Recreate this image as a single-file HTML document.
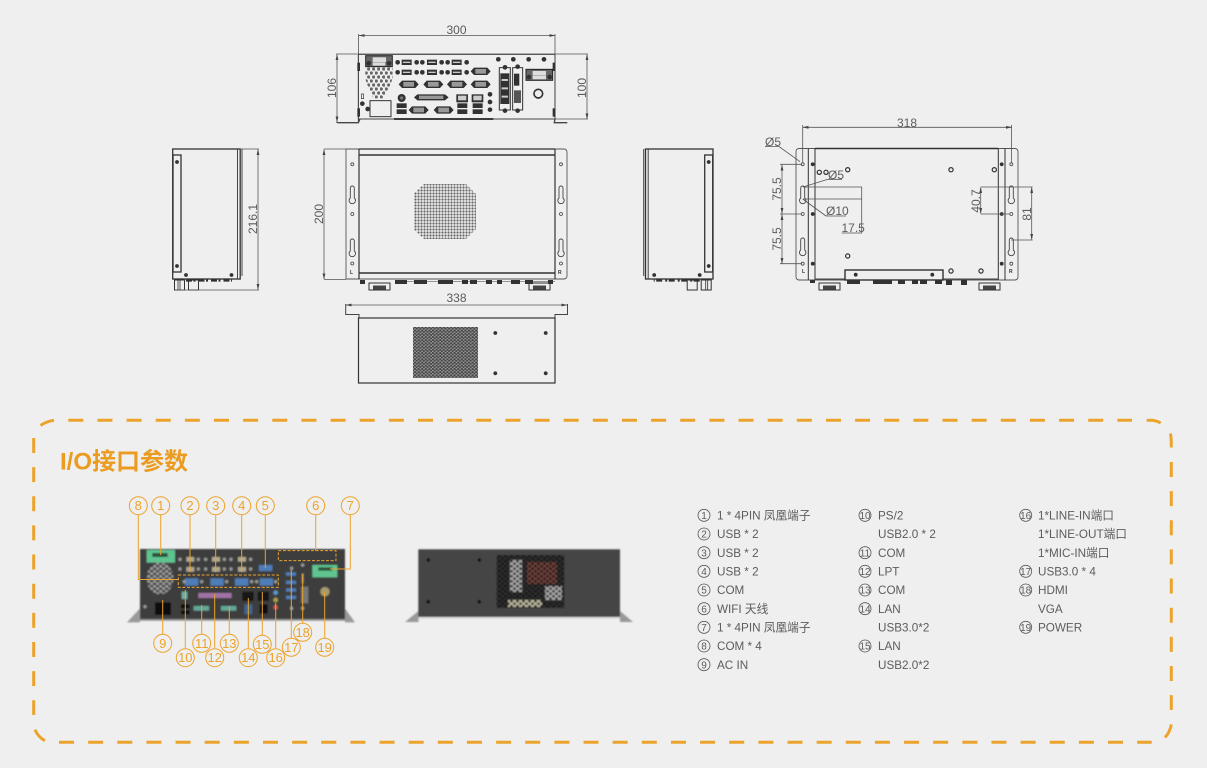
<!DOCTYPE html>
<html><head><meta charset="utf-8"><style>
html,body{margin:0;padding:0;background:#efefef;width:1207px;height:768px;overflow:hidden}
svg{display:block}
text{font-family:"Liberation Sans","Noto Sans CJK SC",sans-serif}
.d{font-size:12px;fill:#5c5c5c}
.l{font-size:11.7px;fill:#5c5c5c}
.n{font-size:10px;fill:#5c5c5c;text-anchor:middle}
.o{font-size:13px;fill:#eba32c;text-anchor:middle}
.ln{stroke:#555;stroke-width:.8;fill:none}
.or{stroke:#eba32c;stroke-width:1;fill:none}
</style></head><body>
<svg width="1207" height="768" viewBox="0 0 1207 768" xmlns="http://www.w3.org/2000/svg">
<defs>
<pattern id="holes" width="3" height="3" patternUnits="userSpaceOnUse"><circle cx="1.5" cy="1.5" r="1.1" fill="#666"/></pattern>
<pattern id="holes2" width="3.6" height="3.2" patternUnits="userSpaceOnUse"><rect width="3.6" height="3.2" fill="#999"/><circle cx="1" cy=".9" r="1.1" fill="#444"/><circle cx="2.8" cy="2.5" r="1.1" fill="#444"/></pattern>
<pattern id="hx" width="15" height="24" patternUnits="userSpaceOnUse"><circle cx="3.700" cy="6" r="5" fill="#666"/><circle cx="11.200" cy="18" r="5" fill="#666"/></pattern>
<pattern id="holes4" width="6" height="5" patternUnits="userSpaceOnUse"><circle cx="1.500" cy="1.200" r="1.300" fill="#111"/><circle cx="4.500" cy="3.700" r="1.300" fill="#111"/></pattern>
<pattern id="vph" width="18" height="15" patternUnits="userSpaceOnUse"><circle cx="5" cy="4" r="4.500" fill="#a0a0a0"/><circle cx="14" cy="11" r="4.500" fill="#a0a0a0"/></pattern>
<filter id="soft" x="-2%" y="-2%" width="104%" height="104%"><feGaussianBlur stdDeviation="0.35"/></filter>
<filter id="bl" x="-5%" y="-5%" width="110%" height="110%"><feGaussianBlur stdDeviation="0.8"/></filter>
<marker id="a" markerWidth="6" markerHeight="4" refX="5.5" refY="2" orient="auto-start-reverse" markerUnits="userSpaceOnUse"><path d="M0 .6L6 2L0 3.4z" fill="#444"/></marker>
<g id="key"><path d="M-2 0a2 2 0 0 1 4 0v10a3.2 3.2 0 1 1-4 0z" fill="none" stroke="#444" stroke-width=".9"/></g>
<g id="ring"><circle r="2.100" fill="none" stroke="#333" stroke-width="1.200"/></g>
<g id="hole"><circle r="1.500" fill="none" stroke="#444" stroke-width=".8"/></g>
<circle id="dot" r="1.900" fill="#333"/>
<g id="usb"><rect x="-15" y="-8" width="30" height="16" fill="#333"/><rect x="-11" y="-2" width="22" height="4" fill="#ccc"/></g>
<g id="com"><path d="M-30 0L-20 -11H20L30 0L20 11H-20Z" fill="#333"/><rect x="-16" y="-7" width="32" height="14" fill="#999"/></g>
<circle id="z" r="7" fill="#333"/>
<g id="conn"><rect x="0" y="0" width="21" height="7" fill="none" stroke="#333" stroke-width="1"/><rect x="4" y="2.500" width="13" height="4" fill="#444"/></g>
<g id="side"><rect x="172.700" y="149" width="67.500" height="130" fill="none" stroke="#333" stroke-width="1.300"/><rect x="173" y="155" width="8" height="117" fill="none" stroke="#333" stroke-width="1.300"/><path d="M237.500 149V279M242 149V276" stroke="#444" stroke-width="1" fill="none"/><use href="#dot" x="177" y="162"/><use href="#dot" x="177" y="266"/><use href="#dot" x="186" y="275"/><use href="#dot" x="231.500" y="275"/><path d="M186 280.500h46" stroke="#333" stroke-width="2.200" stroke-dasharray="6 1.500 2 3"/><rect x="174.500" y="280" width="10" height="10" fill="none" stroke="#333"/><rect x="188.500" y="280" width="10" height="10" fill="none" stroke="#333"/><path d="M178 280v10M180 280v10" stroke="#333" stroke-width=".8"/></g>
<clipPath id="octa"><path d="M424 184H466L476 194V229L466 239H424L413.500 229V194Z"/></clipPath>
</defs>
<rect width="1207" height="768" fill="#efefef"/>

<g filter="url(#soft)">
<!-- top rear view -->
<path class="ln" d="M358.500 34V120M555 34V120M336 54H588M336 122.500H358M555 119H588"/>
<line class="ln" x1="359" y1="35.500" x2="555" y2="35.500" marker-start="url(#a)" marker-end="url(#a)"/>
<line class="ln" x1="337" y1="54.500" x2="337" y2="122" marker-start="url(#a)" marker-end="url(#a)"/>
<line class="ln" x1="587" y1="54.500" x2="587" y2="119" marker-start="url(#a)" marker-end="url(#a)"/>
<text class="d" x="456.500" y="34" text-anchor="middle">300</text>
<text class="d" transform="translate(337,88) rotate(-90)" y="-1" text-anchor="middle">106</text>
<text class="d" transform="translate(587,88) rotate(-90)" y="-1" text-anchor="middle">100</text>
<g transform="translate(320,15) scale(.3333)">
<path d="M115 118H705M115 118V320M705 118V312M115 312H705" stroke="#444" stroke-width="3" fill="none"/>
<path d="M52 323H115L120 312M705 312L703 323H742" stroke="#444" stroke-width="4" fill="none"/>
<rect x="112" y="143" width="8" height="25" fill="#333"/><rect x="112" y="280" width="8" height="25" fill="#333"/><rect x="698" y="143" width="8" height="25" fill="#333"/><rect x="698" y="280" width="8" height="25" fill="#333"/>
<path d="M222 312H520" stroke="#222" stroke-width="5"/>
<rect x="137" y="122" width="80" height="33" fill="#666" stroke="#222" stroke-width="3"/><rect x="158" y="127" width="40" height="14" fill="#ddd"/><rect x="158" y="142" width="38" height="10" fill="#ddd"/>
<use href="#z" x="146" y="145"/><use href="#z" x="207" y="145"/>
<path d="M137 155H218V190L205 225L190 250H160L148 225L135 190Z" fill="url(#hx)"/>
<rect x="150" y="257" width="63" height="48" fill="none" stroke="#333" stroke-width="3"/>
<rect x="124" y="237" width="7" height="14" fill="none" stroke="#333" stroke-width="2"/>
<use href="#z" x="127" y="266"/><use href="#z" x="143" y="282"/>
<use href="#usb" x="260" y="142"/><use href="#usb" x="336" y="142"/><use href="#usb" x="410" y="142"/>
<use href="#usb" x="260" y="172"/><use href="#usb" x="336" y="172"/><use href="#usb" x="410" y="172"/>
<use href="#z" x="233" y="142"/><use href="#z" x="290" y="142"/><use href="#z" x="307" y="142"/><use href="#z" x="365" y="142"/><use href="#z" x="383" y="142"/><use href="#z" x="440" y="142"/>
<use href="#z" x="233" y="172"/><use href="#z" x="290" y="172"/><use href="#z" x="307" y="172"/><use href="#z" x="365" y="172"/><use href="#z" x="383" y="172"/><use href="#z" x="440" y="172"/>
<use href="#com" x="482" y="169"/><use href="#com" x="266" y="208"/><use href="#com" x="340" y="208"/><use href="#com" x="411" y="208"/><use href="#com" x="482" y="208"/>
<use href="#com" x="296" y="285"/><use href="#com" x="371" y="285"/>
<path d="M282 247L292 238H375L386 247L375 256H292Z" fill="#333"/><rect x="297" y="242" width="73" height="10" fill="#999"/>
<circle cx="245" cy="249" r="12" fill="#333"/><circle cx="245" cy="249" r="5" fill="#777"/>
<rect x="230" y="265" width="30" height="14" fill="#333"/><rect x="230" y="283" width="30" height="14" fill="#333"/>
<rect x="409" y="238" width="35" height="24" fill="#333"/><rect x="414" y="242" width="25" height="14" fill="#ccc"/><rect x="455" y="238" width="35" height="24" fill="#333"/><rect x="460" y="242" width="25" height="14" fill="#ccc"/>
<rect x="412" y="265" width="30" height="14" fill="#333"/><rect x="412" y="283" width="30" height="14" fill="#333"/><rect x="458" y="265" width="30" height="14" fill="#333"/><rect x="458" y="283" width="30" height="14" fill="#333"/>
<use href="#z" x="510" y="238"/><use href="#z" x="510" y="261"/><use href="#z" x="510" y="284"/>
<use href="#z" x="535" y="133"/><use href="#z" x="580" y="133"/><use href="#z" x="626" y="133"/><use href="#z" x="672" y="133"/>
<rect x="538" y="158" width="33" height="127" fill="none" stroke="#333" stroke-width="3"/><rect x="541" y="175" width="27" height="92" fill="#333"/><path d="M545 195H564M545 220H564M545 245H564" stroke="#ccc" stroke-width="6"/><use href="#z" x="555" y="157"/><use href="#z" x="555" y="287"/>
<rect x="578" y="158" width="30" height="127" fill="none" stroke="#333" stroke-width="3"/><rect x="582" y="176" width="16" height="36" fill="#333"/><rect x="582" y="226" width="21" height="38" fill="#555"/><use href="#z" x="593" y="155"/><use href="#z" x="593" y="287"/>
<rect x="618" y="163" width="80" height="33" fill="#666" stroke="#222" stroke-width="3"/><rect x="638" y="168" width="40" height="14" fill="#ddd"/><rect x="638" y="183" width="40" height="10" fill="#ddd"/><use href="#z" x="627" y="186"/><use href="#z" x="689" y="186"/>
<circle cx="655" cy="236" r="13" fill="#eee" stroke="#333" stroke-width="5"/>
</g>

<!-- side views -->
<use href="#side"/>
<use href="#side" transform="translate(885.700,0) scale(-1,1)"/>
<path class="ln" d="M240 149H259M175 290H259"/>
<line class="ln" x1="258" y1="149.500" x2="258" y2="289.500" marker-start="url(#a)" marker-end="url(#a)"/>
<text class="d" transform="translate(258,219) rotate(-90)" y="-1" text-anchor="middle">216.1</text>

<!-- center view -->
<path class="ln" d="M324 149H346M324 279.500H346"/>
<line class="ln" x1="324" y1="149.500" x2="324" y2="279" marker-start="url(#a)" marker-end="url(#a)"/>
<text class="d" transform="translate(324,214) rotate(-90)" y="-1" text-anchor="middle">200</text>
<path d="M346 149H564a3 3 0 0 1 3 3V276a3 3 0 0 1-3 3H346Z" fill="none" stroke="#555" stroke-width=".9"/>
<path d="M359 149V279M555 149V279" stroke="#333" stroke-width="1.200"/>
<path d="M359 155H555M359 273H555" stroke="#333" stroke-width="1.400"/>
<path d="M359 149H555" stroke="#333" stroke-width="1.200"/>
<use href="#hole" x="352.300" y="164.300"/><use href="#hole" x="352.300" y="214"/><use href="#hole" x="352.300" y="263.500"/>
<use href="#hole" x="561" y="164.300"/><use href="#hole" x="561" y="214"/><use href="#hole" x="561" y="263.500"/>
<use href="#key" x="352.300" y="188"/><use href="#key" x="352.300" y="241"/><use href="#key" x="561" y="188"/><use href="#key" x="561" y="241"/>
<text x="350" y="274" font-size="5" font-weight="bold" fill="#333">L</text><text x="558" y="274" font-size="5" font-weight="bold" fill="#333">R</text>
<rect x="413" y="184" width="64" height="55" fill="url(#holes)" clip-path="url(#octa)"/>
<path d="M395 281.500H555" stroke="#777" stroke-width=".8"/>
<g fill="#333"><rect x="360" y="280" width="5" height="4"/><rect x="395" y="280" width="12" height="4"/><rect x="414" y="280" width="13" height="4"/><rect x="438" y="280" width="15" height="4"/><rect x="462" y="280" width="6" height="4"/><rect x="470" y="280" width="7" height="4"/><rect x="486" y="280" width="6" height="4"/><rect x="497" y="280" width="5" height="4"/><rect x="511" y="280" width="9" height="4"/><rect x="525" y="280" width="8" height="4"/><rect x="548" y="280" width="5" height="4"/></g>
<use href="#conn" x="369" y="283"/><use href="#conn" x="529" y="283"/>

<!-- bottom view -->
<line class="ln" x1="346" y1="305" x2="567" y2="305" marker-start="url(#a)" marker-end="url(#a)"/>
<text class="d" x="456.500" y="302" text-anchor="middle">338</text>
<path d="M345.700 304V314.500H359V318H555V314.500H567.500V304" stroke="#444" stroke-width="1" fill="none"/>
<rect x="358.500" y="318" width="196.500" height="65" fill="none" stroke="#333" stroke-width="1.200"/>
<rect x="413" y="327" width="65" height="51" fill="url(#holes2)"/>
<use href="#dot" x="495.300" y="333"/><use href="#dot" x="545.700" y="333"/><use href="#dot" x="495.300" y="373.300"/><use href="#dot" x="545.700" y="373.300"/>

<!-- right view -->
<path d="M799 148.500H1015a3 3 0 0 1 3 3V277a3 3 0 0 1-3 3H799a3 3 0 0 1-3-3V151.500a3 3 0 0 1 3-3Z" fill="none" stroke="#555" stroke-width=".9"/>
<path d="M808.300 148.500V280M815 148.500V280M998.300 148.500V280M1005 148.500V280" stroke="#333" stroke-width="1"/>
<path d="M815 148.500H998" stroke="#333" stroke-width="1.400"/>
<path d="M815 279H845M943 279H998" stroke="#444" stroke-width="1"/>
<use href="#hole" x="802.700" y="164.300"/><use href="#hole" x="802.700" y="214"/><use href="#hole" x="802.700" y="263.700"/>
<use href="#hole" x="1011.300" y="164.300"/><use href="#hole" x="1011.300" y="214"/><use href="#hole" x="1011.300" y="263.700"/>
<use href="#dot" x="812.700" y="164.300"/><use href="#dot" x="812.700" y="214"/><use href="#dot" x="812.700" y="263.700"/>
<use href="#dot" x="1001.700" y="164.300"/><use href="#dot" x="1001.700" y="214"/><use href="#dot" x="1001.700" y="263.700"/>
<use href="#ring" x="847.700" y="169.700"/><use href="#ring" x="951" y="169.700"/><use href="#ring" x="994.300" y="169.700"/><use href="#ring" x="847.700" y="256"/><use href="#ring" x="951" y="271"/><use href="#ring" x="981" y="271"/><use href="#ring" x="819.300" y="172.300"/><use href="#ring" x="826" y="172.300"/>
<use href="#key" x="802.700" y="188"/><use href="#key" x="802.700" y="240"/><use href="#key" x="1011.300" y="188"/><use href="#key" x="1011.300" y="240"/>
<rect x="845" y="270" width="98" height="10" fill="none" stroke="#333" stroke-width="1.400"/>
<use href="#dot" x="855.700" y="274.700"/><use href="#dot" x="932.300" y="274.700"/>
<text x="802" y="273" font-size="5" font-weight="bold" fill="#333">L</text><text x="1009" y="273" font-size="5" font-weight="bold" fill="#333">R</text>
<g fill="#333"><rect x="810" y="280" width="5" height="3"/><rect x="847" y="280" width="13" height="4"/><rect x="873" y="280" width="19" height="4"/><rect x="898" y="280" width="7" height="4"/><rect x="912" y="280" width="6" height="4"/><rect x="920" y="280" width="7" height="4"/><rect x="935" y="280" width="7" height="4"/><rect x="946" y="280" width="6" height="5"/><rect x="961" y="280" width="6" height="5"/></g>
<use href="#conn" x="819" y="283"/><use href="#conn" x="979" y="283"/>
<path class="ln" d="M802.700 125V163M1011.600 125V163"/>
<line class="ln" x1="803" y1="127.300" x2="1011.500" y2="127.300" marker-start="url(#a)" marker-end="url(#a)"/>
<text class="d" x="907" y="127" text-anchor="middle">318</text>
<path class="ln" d="M765 146.500H779L800 161.700M828 179.300H842M828 179.300L803 187M826 216H846M826 216L802.700 199M803 187H861.700V233H841.700M803 199H861.700M780 164.300H802M780 214H802M780 263.700H802M980.700 187H1032.700M980.700 214H1010M1011 240H1032.700"/>
<line class="ln" x1="782" y1="165" x2="782" y2="213.500" marker-start="url(#a)" marker-end="url(#a)"/>
<line class="ln" x1="782" y1="214.500" x2="782" y2="263.500" marker-start="url(#a)" marker-end="url(#a)"/>
<line class="ln" x1="980.700" y1="187.500" x2="980.700" y2="213.500" marker-start="url(#a)" marker-end="url(#a)"/>
<line class="ln" x1="1031.700" y1="187.500" x2="1031.700" y2="239.500" marker-start="url(#a)" marker-end="url(#a)"/>
<text class="d" x="765" y="146">Ø5</text>
<text class="d" x="828" y="179">Ø5</text>
<text class="d" x="826" y="215">Ø10</text>
<text class="d" x="841.500" y="232">17.5</text>
<text class="d" transform="translate(781,189) rotate(-90)" text-anchor="middle">75.5</text>
<text class="d" transform="translate(781,239) rotate(-90)" text-anchor="middle">75.5</text>
<text class="d" transform="translate(980,201) rotate(-90)" text-anchor="middle">40.7</text>
<text class="d" transform="translate(1031,214) rotate(-90)" text-anchor="middle">81</text>
</g>

<!-- IO panel -->
<g fill="none" stroke="#eba32c" stroke-width="3">
<path d="M68.300 420.300H1132" stroke-dasharray="15 14.140"/>
<path d="M1171.300 462V710" stroke-dasharray="15 14.140"/>
<path d="M59 742.300H1151.700" stroke-dasharray="15 14.140"/>
<path d="M33.700 438V715" stroke-dasharray="15 14.140"/>
<path d="M40.500 425.500Q46 421.500 54 420.300"/>
<path d="M1146.700 420.300H1150Q1156 420.300 1160.700 423"/>
<path d="M1170.300 433.500Q1171.300 436 1171.300 447.500"/>
<path d="M1171.300 724.500Q1170 732 1165 737.500"/>
<path d="M35 729.700Q38 737 45 740.700"/>
</g>
<text x="60" y="469.500" font-size="24" font-weight="bold" fill="#eb9c20">I/O接口参数</text>

<!-- photo 1 -->
<g filter="url(#bl)"><g transform="translate(135,545) scale(.3333)">
<path d="M-24 232L15 190V232ZM660 232L630 190V232Z" fill="#999"/>
<rect x="15" y="12" width="615" height="213" fill="#3d3d3d"/>
<rect x="35" y="15" width="85" height="38" fill="#5fc490"/><rect x="52" y="24" width="46" height="12" fill="#2f4f3c"/>
<rect x="532" y="60" width="75" height="37" fill="#5fc490"/><rect x="550" y="67" width="42" height="10" fill="#2f4f3c"/>
<ellipse cx="75" cy="100" rx="40" ry="48" fill="url(#vph)"/>
<g fill="#4f7db8"><rect x="150" y="100" width="40" height="22"/><rect x="226" y="100" width="40" height="22"/><rect x="300" y="100" width="40" height="22"/><rect x="374" y="100" width="40" height="22"/><rect x="372" y="60" width="40" height="18"/></g>
<g fill="#b0a88f"><rect x="154" y="36" width="24" height="14"/><rect x="154" y="66" width="24" height="14"/><rect x="231" y="36" width="24" height="14"/><rect x="231" y="66" width="24" height="14"/><rect x="309" y="36" width="24" height="14"/><rect x="309" y="66" width="24" height="14"/></g>
<g fill="#999"><circle cx="135" cy="43" r="5"/><circle cx="190" cy="43" r="5"/><circle cx="212" cy="43" r="5"/><circle cx="268" cy="43" r="5"/><circle cx="288" cy="43" r="5"/><circle cx="347" cy="43" r="5"/><circle cx="135" cy="72" r="5"/><circle cx="190" cy="72" r="5"/><circle cx="212" cy="72" r="5"/><circle cx="268" cy="72" r="5"/><circle cx="288" cy="72" r="5"/><circle cx="347" cy="72" r="5"/><circle cx="148" cy="110" r="5"/><circle cx="200" cy="110" r="5"/><circle cx="275" cy="110" r="5"/><circle cx="350" cy="110" r="5"/><circle cx="365" cy="110" r="5"/><circle cx="422" cy="110" r="5"/><circle cx="470" cy="70" r="5"/><circle cx="503" cy="60" r="5"/><circle cx="470" cy="190" r="5"/><circle cx="503" cy="190" r="5"/><circle cx="30" cy="185" r="5"/></g>
<rect x="140" y="140" width="17" height="22" fill="#6fb0a8"/>
<rect x="138" y="178" width="26" height="12" fill="#111"/><rect x="138" y="196" width="26" height="12" fill="#111"/>
<rect x="190" y="144" width="100" height="15" fill="#a272a5"/>
<rect x="176" y="183" width="46" height="14" fill="#64a79a"/><rect x="258" y="183" width="46" height="14" fill="#64a79a"/>
<rect x="60" y="172" width="48" height="38" fill="#111"/>
<rect x="322" y="140" width="34" height="28" fill="#151515"/><rect x="368" y="140" width="34" height="28" fill="#151515"/>
<rect x="328" y="178" width="24" height="30" fill="#3d6594"/><rect x="374" y="178" width="24" height="28" fill="#111"/>
<circle cx="422" cy="143" r="7" fill="#5c97c8"/><circle cx="422" cy="165" r="7" fill="#a8a04a"/><circle cx="422" cy="187" r="7" fill="#c2524a"/>
<g fill="#4f7db8"><rect x="453" y="82" width="30" height="10"/><rect x="453" y="107" width="30" height="10"/><rect x="453" y="130" width="30" height="10"/><rect x="453" y="152" width="30" height="10"/></g>
<rect x="500" y="85" width="6" height="30" fill="#888"/>
<rect x="498" y="125" width="22" height="50" fill="#777"/>
<circle cx="570" cy="140" r="14" fill="#a89a6a"/>
<rect x="15" y="222" width="615" height="5" fill="#8a8a8a"/>
</g></g>
<g transform="translate(135,545) scale(.3333)" fill="none" stroke="#eba32c" stroke-width="3">
<rect x="130" y="90" width="300" height="37" stroke-dasharray="9 5"/>
<rect x="430" y="17" width="173" height="30" stroke-dasharray="9 5"/>
</g>
<path class="or" d="M138.300 515V579.500H178M160.700 515V555M190 515V572M215.700 515V572M241.700 515V572M265.300 515V568M315.700 515V551M350.300 515V569H330M162.700 634V600M185.300 648V590M201.700 634V605M214.700 648V594M229.300 634V606M248.300 648V598M262.300 635V592M275.700 648V603M291.300 638V570M302.700 623V574M324.700 638V592"/>
<g fill="#efefef" stroke="#eba32c" stroke-width="1">
<circle cx="138.300" cy="505.700" r="9"/><circle cx="160.700" cy="505.700" r="9"/><circle cx="190" cy="505.700" r="9"/><circle cx="215.700" cy="505.700" r="9"/><circle cx="241.700" cy="505.700" r="9"/><circle cx="265.300" cy="505.700" r="9"/><circle cx="315.700" cy="505.700" r="9"/><circle cx="350.300" cy="505.700" r="9"/>
<circle cx="162.700" cy="643.300" r="9"/><circle cx="185.300" cy="657.700" r="9"/><circle cx="201.700" cy="643.300" r="9"/><circle cx="214.700" cy="657.700" r="9"/><circle cx="229.300" cy="643.300" r="9"/><circle cx="248.300" cy="657.700" r="9"/><circle cx="262.300" cy="644.300" r="9"/><circle cx="275.700" cy="657.700" r="9"/><circle cx="291.300" cy="647.300" r="9"/><circle cx="302.700" cy="632.300" r="9"/><circle cx="324.700" cy="647.300" r="9"/>
</g>
<text class="o" x="138.300" y="510">8</text><text class="o" x="160.700" y="510">1</text><text class="o" x="190" y="510">2</text><text class="o" x="215.700" y="510">3</text><text class="o" x="241.700" y="510">4</text><text class="o" x="265.300" y="510">5</text><text class="o" x="315.700" y="510">6</text><text class="o" x="350.300" y="510">7</text>
<text class="o" x="162.700" y="648">9</text><text class="o" x="185.300" y="662">10</text><text class="o" x="201.700" y="648">11</text><text class="o" x="214.700" y="662">12</text><text class="o" x="229.300" y="648">13</text><text class="o" x="248.300" y="662">14</text><text class="o" x="262.300" y="649">15</text><text class="o" x="275.700" y="662">16</text><text class="o" x="291.300" y="652">17</text><text class="o" x="302.700" y="637">18</text><text class="o" x="324.700" y="652">19</text>

<!-- photo 2 -->
<g filter="url(#bl)">
<path d="M405 622L418.500 611V622ZM633 622L620 611V622Z" fill="#999"/>
<rect x="418.300" y="549.300" width="201.700" height="68" fill="#444"/>
<rect x="418.300" y="617" width="201.700" height="2" fill="#dcdcdc"/>
<rect x="496.700" y="555" width="67.600" height="53" fill="#2e2e2e"/>
<rect x="510" y="560" width="12" height="32" fill="#a8a8a8"/>
<rect x="527" y="562" width="30" height="22" fill="#6d3f3a"/>
<rect x="545" y="586" width="17" height="14" fill="#a8a8a8"/>
<rect x="508" y="600" width="34" height="7" fill="#bdb8a0"/>
<rect x="496.700" y="555" width="67.600" height="53" fill="url(#holes4)"/>
<circle cx="428.300" cy="560" r="1.800" fill="#111"/><circle cx="479.300" cy="560" r="1.800" fill="#111"/><circle cx="428.300" cy="601.700" r="1.800" fill="#111"/><circle cx="479.300" cy="601.700" r="1.800" fill="#111"/>
</g>

<!-- legend -->
<g fill="none" stroke="#555" stroke-width=".8">
<circle cx="704" cy="515.300" r="6"/><circle cx="704" cy="534" r="6"/><circle cx="704" cy="552.700" r="6"/><circle cx="704" cy="571.300" r="6"/><circle cx="704" cy="590" r="6"/><circle cx="704" cy="608.700" r="6"/><circle cx="704" cy="627.300" r="6"/><circle cx="704" cy="646" r="6"/><circle cx="704" cy="664.700" r="6"/>
<circle cx="865" cy="515.300" r="6"/><circle cx="865" cy="552.700" r="6"/><circle cx="865" cy="571.300" r="6"/><circle cx="865" cy="590" r="6"/><circle cx="865" cy="608.700" r="6"/><circle cx="865" cy="646" r="6"/>
<circle cx="1025.700" cy="515.300" r="6"/><circle cx="1025.700" cy="571.300" r="6"/><circle cx="1025.700" cy="590" r="6"/><circle cx="1025.700" cy="627.300" r="6"/>
</g>
<text class="n" x="704" y="519">1</text><text class="n" x="704" y="537.700">2</text><text class="n" x="704" y="556.400">3</text><text class="n" x="704" y="575">4</text><text class="n" x="704" y="593.700">5</text><text class="n" x="704" y="612.400">6</text><text class="n" x="704" y="631">7</text><text class="n" x="704" y="649.700">8</text><text class="n" x="704" y="668.400">9</text>
<text class="n" x="865" y="519">10</text><text class="n" x="865" y="556.400">11</text><text class="n" x="865" y="575">12</text><text class="n" x="865" y="593.700">13</text><text class="n" x="865" y="612.400">14</text><text class="n" x="865" y="649.700">15</text>
<text class="n" x="1025.700" y="519">16</text><text class="n" x="1025.700" y="575">17</text><text class="n" x="1025.700" y="593.700">18</text><text class="n" x="1025.700" y="631">19</text>
<text class="l" x="717" y="519.500">1 * 4PIN 凤凰端子</text><text class="l" x="717" y="538.200">USB * 2</text><text class="l" x="717" y="556.900">USB * 2</text><text class="l" x="717" y="575.500">USB * 2</text><text class="l" x="717" y="594.200">COM</text><text class="l" x="717" y="612.900">WIFI 天线</text><text class="l" x="717" y="631.500">1 * 4PIN 凤凰端子</text><text class="l" x="717" y="650.200">COM * 4</text><text class="l" x="717" y="668.900">AC IN</text>
<text class="l" x="878" y="519.500">PS/2</text><text class="l" x="878" y="538.200">USB2.0 * 2</text><text class="l" x="878" y="556.900">COM</text><text class="l" x="878" y="575.500">LPT</text><text class="l" x="878" y="594.200">COM</text><text class="l" x="878" y="612.900">LAN</text><text class="l" x="878" y="631.500">USB3.0*2</text><text class="l" x="878" y="650.200">LAN</text><text class="l" x="878" y="668.900">USB2.0*2</text>
<text class="l" x="1038" y="519.500">1*LINE-IN端口</text><text class="l" x="1038" y="538.200">1*LINE-OUT端口</text><text class="l" x="1038" y="556.900">1*MIC-IN端口</text><text class="l" x="1038" y="575.500">USB3.0 * 4</text><text class="l" x="1038" y="594.200">HDMI</text><text class="l" x="1038" y="612.900">VGA</text><text class="l" x="1038" y="631.500">POWER</text>
</svg>
</body></html>
